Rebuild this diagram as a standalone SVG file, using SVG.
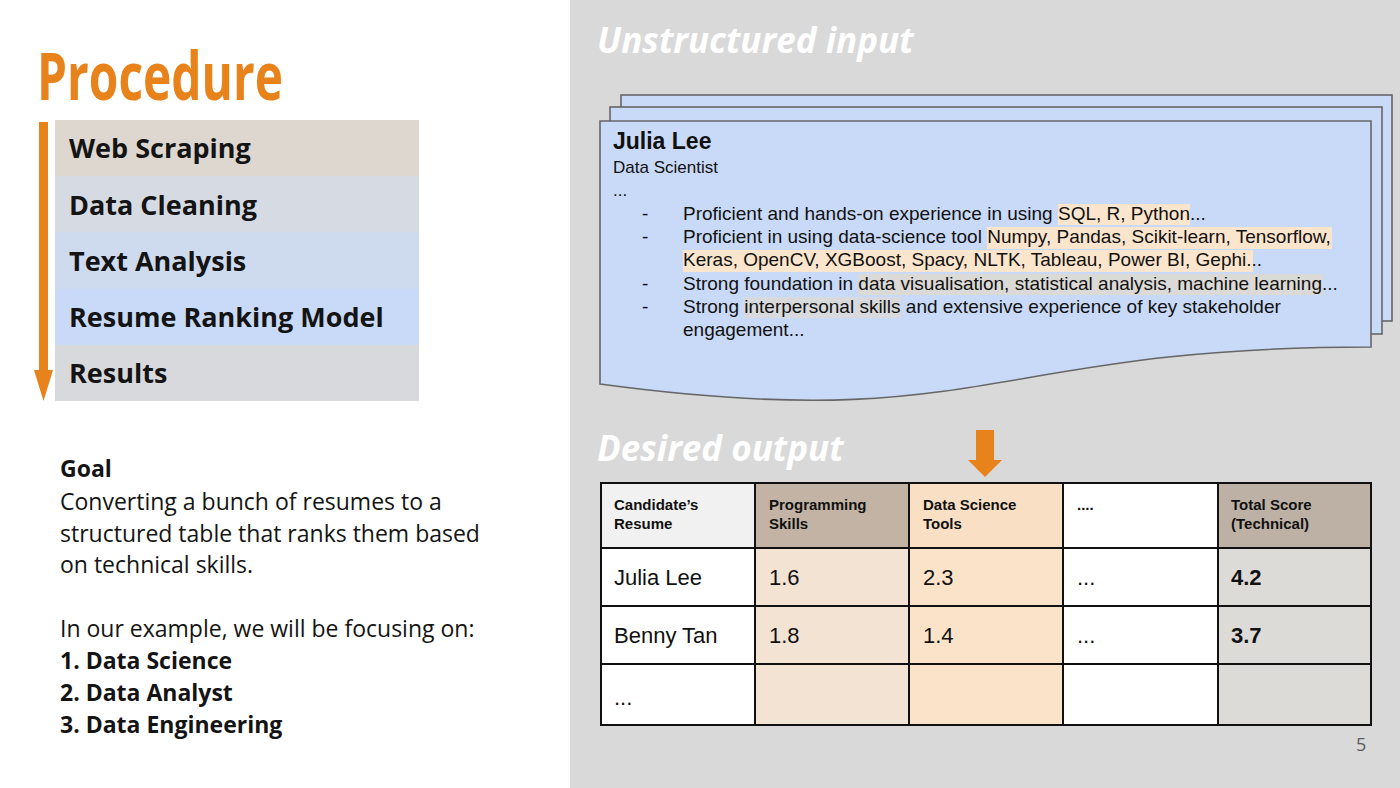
<svg xmlns="http://www.w3.org/2000/svg" width="1400" height="788" viewBox="0 0 1400 788">
  <defs>
    <style>
      .open { font-family: "Open Sans", "Noto Sans", sans-serif; }
      .arial { font-family: "Liberation Sans", Arial, sans-serif; }
      .step { font-family: "Open Sans", "Noto Sans", sans-serif; font-weight: 700; font-size: 27px; fill: #141414; }
      .goal { font-family: "Open Sans", "Noto Sans", sans-serif; font-size: 23px; fill: #141414; }
      .head { font-family: "Open Sans", "Noto Sans", sans-serif; font-weight: 700; font-style: italic; font-size: 35px; fill: #ffffff; }
      .sheet { fill: #c9daf8; stroke: #666666; stroke-width: 1.6; }
      .resume { font-family: "Liberation Sans", Arial, sans-serif; font-size: 19px; fill: #111111; }
      .th { font-family: "Liberation Sans", Arial, sans-serif; font-weight: 700; font-size: 15px; fill: #111111; }
      .td { font-family: "Liberation Sans", Arial, sans-serif; font-size: 22px; fill: #111111; }
      .grid { stroke: #111111; stroke-width: 2; fill: none; }
      .orange { fill: #e8821a; }
      .hl-peach { fill: #fce5cd; }
      .hl-grey { fill: #dcdad7; }
    </style>
  </defs>

  <!-- backgrounds -->
  <rect x="0" y="0" width="1400" height="788" fill="#ffffff"/>
  <rect x="570" y="0" width="830" height="788" fill="#d9d9d9"/>

  <!-- left column: title -->
  <text x="37" y="100" class="open" font-weight="700" font-size="67" fill="#e8821a" textLength="246" lengthAdjust="spacingAndGlyphs">Procedure</text>

  <!-- procedure steps -->
  <g id="steps">
    <g id="step-web-scraping">
      <rect x="55" y="120" width="364" height="56" fill="#ddd7cf"/>
      <text x="69" y="158" class="step">Web Scraping</text>
    </g>
    <g id="step-data-cleaning">
      <rect x="55" y="176" width="364" height="56" fill="#d5dae3"/>
      <text x="69" y="215" class="step">Data Cleaning</text>
    </g>
    <g id="step-text-analysis">
      <rect x="55" y="232" width="364" height="57" fill="#cedaee"/>
      <text x="69" y="271" class="step">Text Analysis</text>
    </g>
    <g id="step-ranking-model">
      <rect x="55" y="289" width="364" height="56" fill="#c9daf8"/>
      <text x="69" y="327" class="step">Resume Ranking Model</text>
    </g>
    <g id="step-results">
      <rect x="55" y="345" width="364" height="56" fill="#d8d9dc"/>
      <text x="69" y="383" class="step">Results</text>
    </g>
  </g>

  <!-- arrows -->
  <g id="connectors">
    <path class="orange" d="M39,122 H48 V370 H53 L43.5,401 L34,370 H39 Z"/>
    <path class="orange" d="M976,430 H994 V460 H1002 L985,477 L968,460 H976 Z"/>
  </g>

  <!-- goal text -->
  <g id="goal">
    <text x="60" y="477" class="goal" font-weight="700">Goal</text>
    <text x="60" y="510" class="goal">Converting a bunch of resumes to a</text>
    <text x="60" y="542" class="goal">structured table that ranks them based</text>
    <text x="60" y="573" class="goal">on technical skills.</text>
    <text x="60" y="637" class="goal">In our example, we will be focusing on:</text>
    <text x="60" y="669" class="goal" font-weight="700">1. Data Science</text>
    <text x="60" y="701" class="goal" font-weight="700">2. Data Analyst</text>
    <text x="60" y="733" class="goal" font-weight="700">3. Data Engineering</text>
  </g>

  <!-- right column headings -->
  <text x="597" y="53" class="head">Unstructured input</text>
  <text x="597" y="461" class="head">Desired output</text>

  <!-- resume stack: two plain sheets behind a document sheet with a wavy bottom -->
  <g id="resume-stack">
    <rect class="sheet" x="621" y="95" width="771" height="226"/>
    <rect class="sheet" x="610" y="107" width="772" height="227"/>
    <path class="sheet" d="M600,121 H1371 V347 C985,347 985,436 600,384 Z"/>
  </g>

  <g id="resume-text">
    <rect class="hl-peach" x="1058" y="204" width="132" height="21"/>
    <rect class="hl-peach" x="987" y="227" width="345" height="22"/>
    <rect class="hl-peach" x="683" y="250" width="570" height="22"/>
    <rect class="hl-grey" x="858" y="274" width="465" height="21"/>
    <rect class="hl-grey" x="744" y="297" width="157" height="21" opacity="0.8"/>

    <text x="613" y="149" class="arial" font-weight="700" font-size="23" fill="#111">Julia Lee</text>
    <text x="613" y="173" class="arial" font-size="17" fill="#111">Data Scientist</text>
    <text x="613" y="196" class="arial" font-size="17" fill="#111">...</text>

    <text x="642" y="220" class="resume">-</text>
    <text x="683" y="220" class="resume">Proficient and hands-on experience in using SQL, R, Python...</text>
    <text x="642" y="243" class="resume">-</text>
    <text x="683" y="243" class="resume">Proficient in using data-science tool Numpy, Pandas, Scikit-learn, Tensorflow,</text>
    <text x="683" y="266" class="resume">Keras, OpenCV, XGBoost, Spacy, NLTK, Tableau, Power BI, Gephi...</text>
    <text x="642" y="290" class="resume">-</text>
    <text x="683" y="290" class="resume">Strong foundation in data visualisation, statistical analysis, machine learning...</text>
    <text x="642" y="313" class="resume">-</text>
    <text x="683" y="313" class="resume">Strong interpersonal skills and extensive experience of key stakeholder</text>
    <text x="683" y="336" class="resume">engagement...</text>
  </g>

  <!-- output table -->
  <g id="output-table">
    <!-- header row fills -->
    <rect x="601" y="483" width="154" height="65" fill="#f1f1f1"/>
    <rect x="755" y="483" width="154" height="65" fill="#c2b3a4"/>
    <rect x="909" y="483" width="154" height="65" fill="#f9e0c5"/>
    <rect x="1063" y="483" width="155" height="65" fill="#ffffff"/>
    <rect x="1218" y="483" width="153" height="65" fill="#bdb1a6"/>
    <!-- body fills -->
    <rect x="601" y="548" width="154" height="177" fill="#ffffff"/>
    <rect x="755" y="548" width="154" height="177" fill="#f3e3d3"/>
    <rect x="909" y="548" width="154" height="177" fill="#fbe3c9"/>
    <rect x="1063" y="548" width="155" height="177" fill="#ffffff"/>
    <rect x="1218" y="548" width="153" height="177" fill="#dddbd8"/>

    <!-- grid -->
    <rect class="grid" x="601" y="483" width="770" height="242"/>
    <path class="grid" d="M755,483 V725 M909,483 V725 M1063,483 V725 M1218,483 V725 M601,548 H1371 M601,606 H1371 M601,664 H1371"/>

    <!-- header labels -->
    <text x="614" y="510" class="th">Candidate’s</text>
    <text x="614" y="529" class="th">Resume</text>
    <text x="769" y="510" class="th">Programming</text>
    <text x="769" y="529" class="th">Skills</text>
    <text x="923" y="510" class="th">Data Science</text>
    <text x="923" y="529" class="th">Tools</text>
    <text x="1077" y="510" class="th">....</text>
    <text x="1231" y="510" class="th">Total Score</text>
    <text x="1231" y="529" class="th">(Technical)</text>

    <!-- rows -->
    <text x="614" y="585" class="td">Julia Lee</text>
    <text x="769" y="585" class="td">1.6</text>
    <text x="923" y="585" class="td">2.3</text>
    <text x="1077" y="585" class="td">...</text>
    <text x="1231" y="585" class="td" font-weight="700">4.2</text>

    <text x="614" y="643" class="td">Benny Tan</text>
    <text x="769" y="643" class="td">1.8</text>
    <text x="923" y="643" class="td">1.4</text>
    <text x="1077" y="643" class="td">...</text>
    <text x="1231" y="643" class="td" font-weight="700">3.7</text>

    <text x="614" y="705" class="td">...</text>
  </g>

  <!-- slide number -->
  <text x="1356" y="751" class="open" font-size="18" fill="#595959">5</text>
</svg>
